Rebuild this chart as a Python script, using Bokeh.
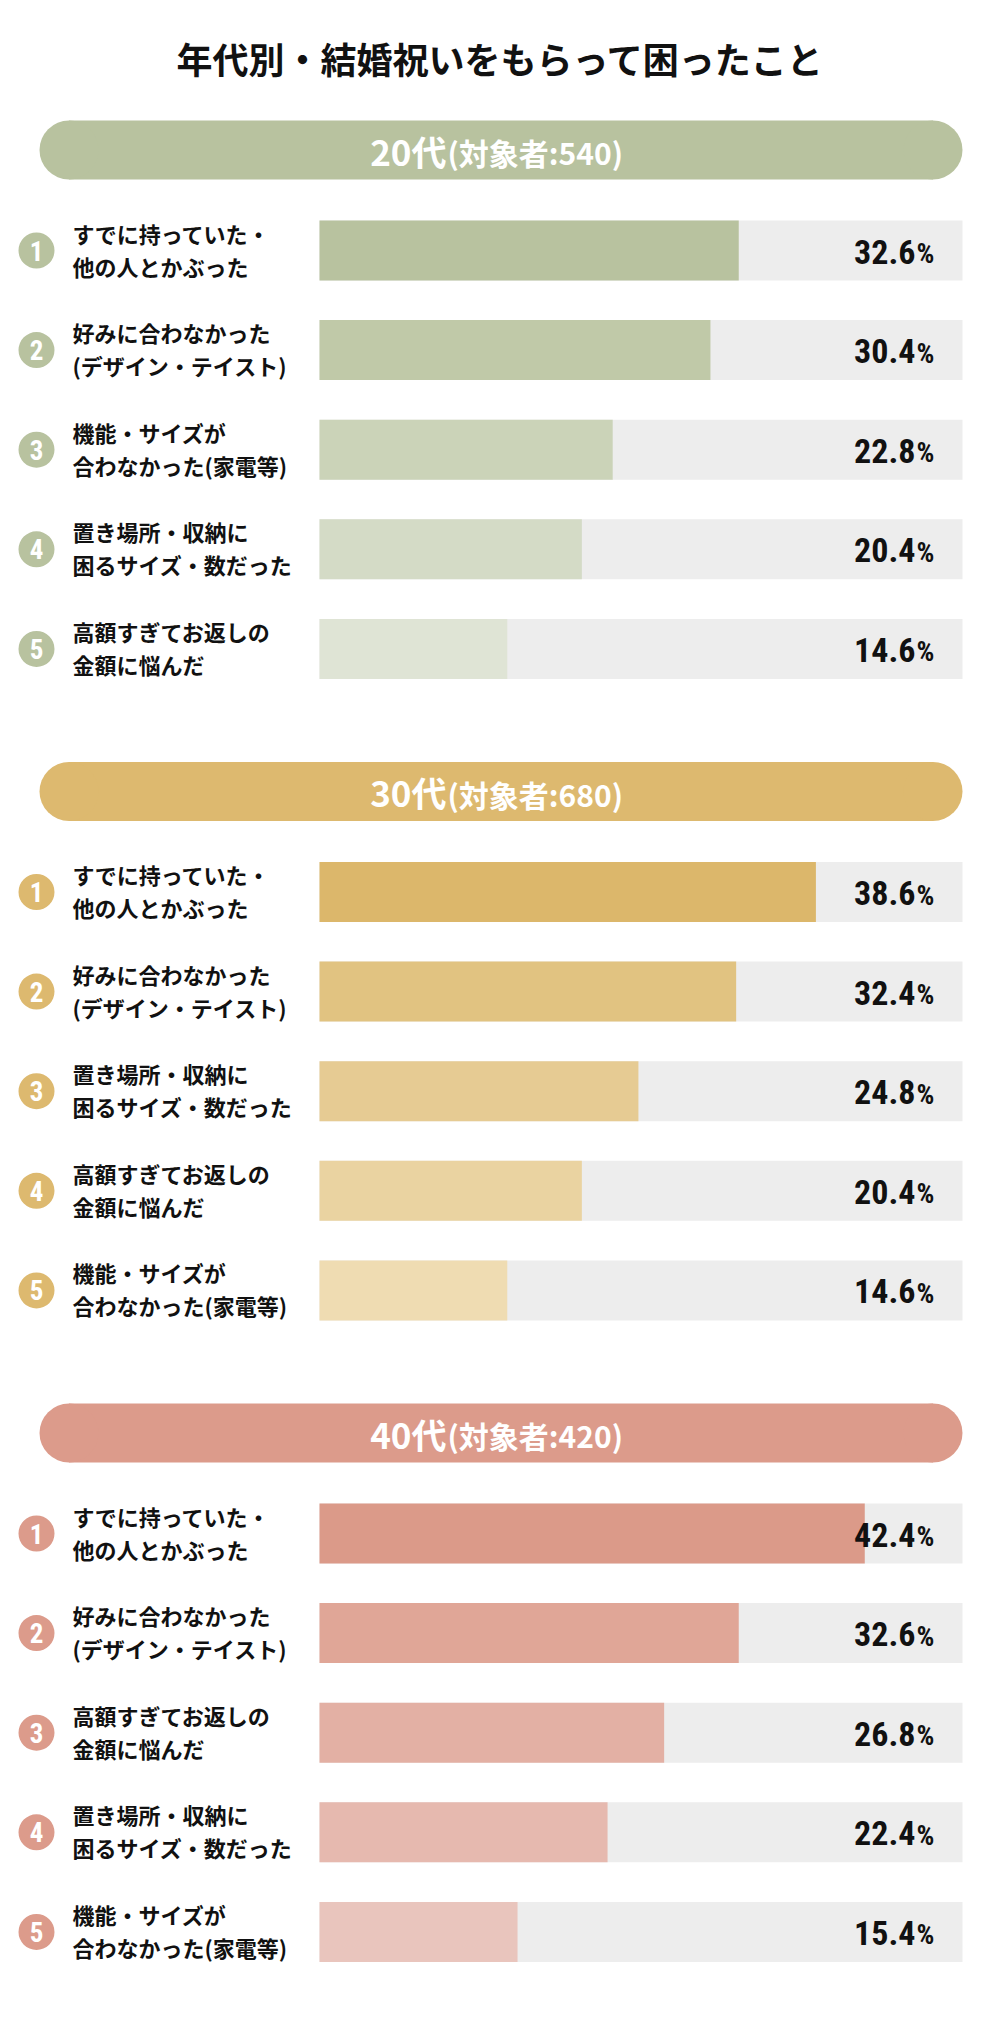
from bokeh.plotting import figure
from bokeh.models import Range1d, ColumnDataSource
from bokeh.core.properties import value
from bokeh.embed import file_html
from bokeh.resources import INLINE

# ---------------- data ----------------
title = "年代別・結婚祝いをもらって困ったこと"

groups = ["20代", "30代", "40代"]
respondents = [540, 680, 420]

labels_20 = ["すでに持っていた・\n他の人とかぶった",
             "好みに合わなかった\n(デザイン・テイスト)",
             "機能・サイズが\n合わなかった(家電等)",
             "置き場所・収納に\n困るサイズ・数だった",
             "高額すぎてお返しの\n金額に悩んだ"]
values_20 = [32.6, 30.4, 22.8, 20.4, 14.6]

labels_30 = ["すでに持っていた・\n他の人とかぶった",
             "好みに合わなかった\n(デザイン・テイスト)",
             "置き場所・収納に\n困るサイズ・数だった",
             "高額すぎてお返しの\n金額に悩んだ",
             "機能・サイズが\n合わなかった(家電等)"]
values_30 = [38.6, 32.4, 24.8, 20.4, 14.6]

labels_40 = ["すでに持っていた・\n他の人とかぶった",
             "好みに合わなかった\n(デザイン・テイスト)",
             "高額すぎてお返しの\n金額に悩んだ",
             "置き場所・収納に\n困るサイズ・数だった",
             "機能・サイズが\n合わなかった(家電等)"]
values_40 = [42.4, 32.6, 26.8, 22.4, 15.4]

ranks = ["1", "2", "3", "4", "5"]
axis_max = 50.0

# ---------------- styles ----------------
pill_colors = ["#b8c29f", "#ddb96f", "#dc9b8b"]
bar_colors = [
    ["#b8c29f", "#c0c9a8", "#cbd3b8", "#d4dbc6", "#dfe4d5"],
    ["#dcb76b", "#e1c381", "#e6cb93", "#ead3a1", "#efdcb2"],
    ["#db9a89", "#e0a697", "#e3b0a4", "#e6b9af", "#e9c5bd"],
]
track_color = "#ededed"
text_color = "#111111"
JP = value("Noto Sans CJK JP")
NUM = value("'Roboto Condensed', 'Liberation Sans Narrow', 'DejaVu Sans Condensed', 'Open Sans Condensed', sans-serif")

W, H = 1000, 2043
TRACK_L, TRACK_R = 319, 962
k = axis_max / (TRACK_R - TRACK_L)


def X(px):
    return (px - TRACK_L) * k


p = figure(width=W, height=H, output_backend="svg", toolbar_location=None,
           x_range=Range1d(X(0), X(W)), y_range=Range1d(H, 0),
           x_axis_type=None, y_axis_type=None, min_border=0)
p.outline_line_color = None
p.background_fill_color = "white"
p.border_fill_color = "white"
p.xgrid.visible = False
p.ygrid.visible = False

p.text(x=[X(500)], y=[57], text=[title], text_font=JP, text_font_style="bold",
       text_font_size="36px", text_align="center", text_baseline="middle",
       text_color=text_color)

all_labels = [labels_20, labels_30, labels_40]
all_values = [values_20, values_30, values_40]

SECTION_STEP = 641.5
PILL_Y0 = 149.5
ROW_Y0 = 250
ROW_STEP = 99.6
PILL_H = 59
BAR_H = 60

for s in range(3):
    off = s * SECTION_STEP
    py = PILL_Y0 + off
    col = pill_colors[s]
    # pill header
    p.rect(x=[X((39 + 962) / 2)], y=[py], width=(962 - 39 - PILL_H) * k, height=PILL_H,
           fill_color=col, line_color=None)
    p.scatter(x=[X(39 + PILL_H / 2), X(962 - PILL_H / 2)], y=[py, py], size=PILL_H,
              marker="circle", fill_color=col, line_color=None)
    p.text(x=[X(446)], y=[py], text=[groups[s]], text_font=JP, text_font_style="bold",
           text_font_size="35px", text_align="right", text_baseline="middle",
           text_color="white")
    p.text(x=[X(447)], y=[py + 2], text=["(対象者:%d)" % respondents[s]], text_font=JP,
           text_font_style="bold", text_font_size="30px", text_align="left",
           text_baseline="middle", text_color="white")

    ys = [ROW_Y0 + off + i * ROW_STEP for i in range(5)]
    vals = all_values[s]
    src = ColumnDataSource(dict(
        y=ys, v=vals, color=bar_colors[s],
        num=["%.1f" % v for v in vals], rank=ranks,
        l1=[t.split("\n")[0] for t in all_labels[s]],
        l2=[t.split("\n")[1] for t in all_labels[s]],
        y1=[y - 18 for y in ys], y2=[y + 15 for y in ys],
        yb=[y + 1 for y in ys],
    ))
    # track
    p.hbar(y="y", left=0, right=axis_max, height=BAR_H, fill_color=track_color,
           line_color=None, source=src)
    # value bar
    p.hbar(y="y", left=0, right="v", height=BAR_H, fill_color="color",
           line_color=None, source=src)
    # rank circle
    p.scatter(x=X(36), y="y", size=36, marker="circle", fill_color=col,
              line_color=None, source=src)
    p.text(x=X(36), y="y", text="rank", text_font=NUM, text_font_style="bold",
           text_font_size="27px", text_align="center", text_baseline="middle",
           text_color="white", source=src)
    # labels
    p.text(x=X(72), y="y1", text="l1", text_font=JP, text_font_style="bold",
           text_font_size="22px", text_align="left", text_baseline="middle",
           text_color=text_color, source=src)
    p.text(x=X(72), y="y2", text="l2", text_font=JP, text_font_style="bold",
           text_font_size="22px", text_align="left", text_baseline="middle",
           text_color=text_color, source=src)
    # values
    p.text(x=X(915), y="yb", text="num", text_font=NUM, text_font_style="bold",
           text_font_size="34px", text_align="right", text_baseline="middle",
           text_color=text_color, source=src)
    p.text(x=X(916), y=[y + 3 for y in ys], text=value("%"), text_font=NUM,
           text_font_style="bold", text_font_size="28px", text_align="left",
           text_baseline="middle", text_color=text_color)

open("out.html", "w").write(file_html(p, INLINE))
